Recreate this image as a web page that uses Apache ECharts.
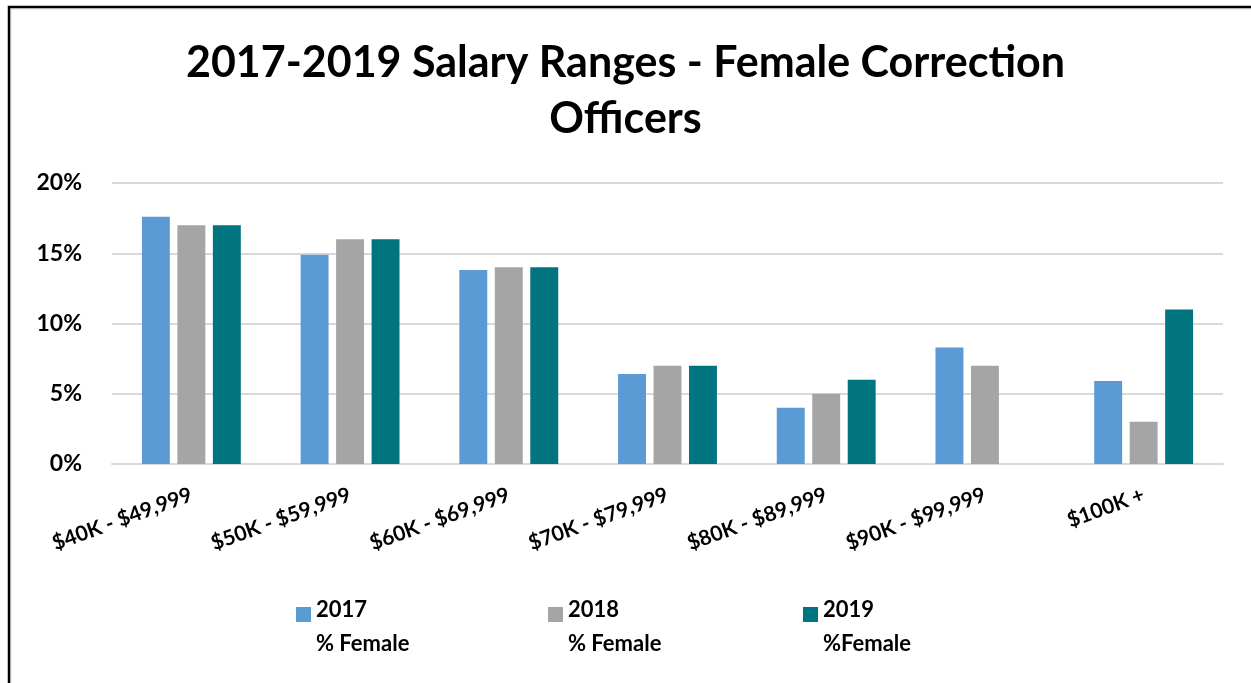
<!DOCTYPE html>
<html>
<head>
<meta charset="utf-8">
<script src="https://cdn.jsdelivr.net/npm/echarts@6/dist/echarts.min.js"></script>
<style>
  html, body { margin: 0; padding: 0; background: #fff; }
  #main { width: 1251px; height: 683px; }
</style>
</head>
<body>
<div id="main"></div>
<script>
const CATEGORIES = ["$40K - $49,999", "$50K - $59,999", "$60K - $69,999", "$70K - $79,999",
  "$80K - $89,999", "$90K - $99,999", "$100K +"];
const SERIES_NAMES = ["2017\n% Female", "2018\n% Female", "2019\n%Female"];
const COLORS = ["#5b9bd5", "#a5a5a5", "#00757f"];
const V2017 = [17.6, 14.9, 13.8, 6.4, 4.0, 8.3, 5.9];
const V2018 = [17.0, 16.0, 14.0, 7.0, 5.0, 7.0, 3.0];
const V2019 = [17.0, 16.0, 14.0, 7.0, 6.0, null, 11.0];
const Y_TICKS = [0, 5, 10, 15, 20];

const FONT = "Lato";
const chart = echarts.init(document.getElementById("main"));

// icon: square in the upper part so it lines up with the first text line
const legendIcon = "path://M0,0L15,0L15,15L0,15Z M0,40L0.01,40L0,40.01Z";
const legendLefts = [291, 543, 798];

const option = {
  animation: false,
  textStyle: { fontFamily: FONT },
  title: {
    text: "2017-2019 Salary Ranges - Female Correction\nOfficers",
    left: "center",
    top: 30,
    textStyle: {
      fontFamily: FONT,
      fontSize: 43,
      fontWeight: "bold",
      color: "#000",
      lineHeight: 56,
    },
  },
  legend: SERIES_NAMES.map((n, i) => ({
    data: [n],
    left: legendLefts[i],
    top: 588,
    icon: legendIcon,
    itemWidth: 15,
    itemHeight: 40,
    itemGap: 0,
    textStyle: {
      fontFamily: FONT,
      fontSize: 22,
      fontWeight: "bold",
      color: "#000",
      lineHeight: 34,
    },
  })),
  grid: {
    left: 112,
    right: 28,
    top: 183,
    bottom: 219,
  },
  xAxis: {
    type: "category",
    data: CATEGORIES,
    axisLine: { show: true, lineStyle: { color: "#d9d9d9", width: 2 } },
    axisTick: { show: false },
    axisLabel: {
      rotate: 20,
      interval: 0,
      margin: 30,
      fontFamily: FONT,
      fontSize: 21,
      fontWeight: "bold",
      color: "#000",
    },
  },
  yAxis: {
    type: "value",
    min: Y_TICKS[0],
    max: Y_TICKS[Y_TICKS.length - 1],
    interval: 5,
    axisLine: { show: false },
    axisTick: { show: false },
    splitLine: { lineStyle: { color: "#d9d9d9", width: 2 } },
    axisLabel: {
      margin: 30,
      fontFamily: FONT,
      fontSize: 23,
      fontWeight: "bold",
      color: "#000",
      formatter: (v) => v + "%",
    },
  },
  series: [V2017, V2018, V2019].map((d, i) => ({
    name: SERIES_NAMES[i],
    type: "bar",
    data: d,
    barWidth: "17.6%",
    barGap: "27%",
    itemStyle: { color: COLORS[i] },
  })),
  graphic: [
    {
      type: "rect",
      shape: { x: 11, y: 9, width: 1300, height: 700 },
      style: { fill: "none", stroke: "#d9d9d9", lineWidth: 1 },
      silent: true,
    },
    {
      type: "rect",
      shape: { x: 9, y: 7, width: 1300, height: 700 },
      style: { fill: "none", stroke: "#000", lineWidth: 2.5 },
      silent: true,
    },
  ],
};
chart.setOption(option);
</script>
</body>
</html>
